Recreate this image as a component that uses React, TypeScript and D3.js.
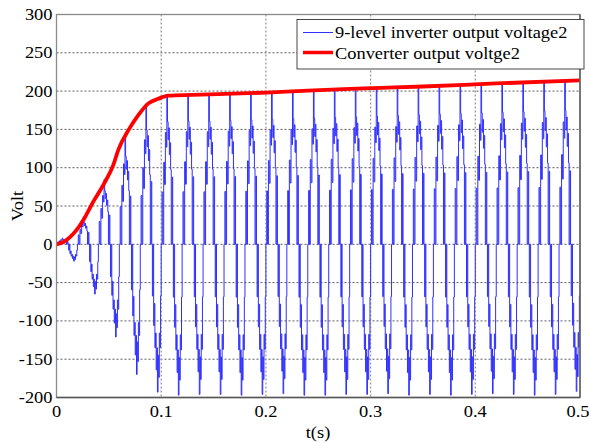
import React from "react";
import * as d3 from "d3";

// ---- data ----
const xTicks = [0, 0.1, 0.2, 0.3, 0.4, 0.5];
const yTicks = [-200, -150, -100, -50, 0, 50, 100, 150, 200, 250, 300];

// converter output voltage (red)
const envT = [0, 0.0067, 0.0134, 0.02, 0.0258, 0.0353, 0.0449, 0.0544, 0.0592, 0.0687, 0.0783, 0.0878, 0.0973, 0.107, 0.13, 0.2, 0.28, 0.35, 0.42, 0.5];
const envV = [0, 3, 10, 20, 32, 56, 78, 104, 124, 149, 169, 184, 190, 194, 195, 198, 203, 206, 210, 214];

// one 20 ms cycle of the 9-level staircase (phase in cycle, normalized level)
const cyclePhase = [0.0, 0.04, 0.08, 0.12, 0.16, 0.2, 0.24, 0.27, 0.3, 0.33, 0.36, 0.39, 0.42, 0.45, 0.48, 0.52, 0.55, 0.58, 0.61, 0.64, 0.67, 0.7, 0.73, 0.76, 0.79, 0.82, 0.85, 0.88, 0.91, 0.94, 0.97];
const cycleLevel = [0.0, 0.35, 0.0, 0.55, 0.4, 0.75, 0.65, 1.0, 0.82, 0.7, 0.78, 0.6, 0.68, 0.5, 0.0, 0.45, 0.0, -0.35, 0.0, -0.55, -0.4, -0.7, -0.6, -0.85, -0.7, -1.0, -0.75, -0.9, -0.6, -0.7, -0.35];

// per-cycle peak values of the inverter voltage (blue)
const posPeak = [8, 35, 85, 140, 182, 195, 196, 196, 197, 198, 199, 200, 201, 202, 203, 204, 205, 206, 207, 208, 209, 210, 211, 212, 213];
const negPeak = [-22, -65, -121, -170, -193, -197, -196, -196, -197, -196, -195, -197, -197, -196, -196, -195, -197, -196, -197, -196, -195, -196, -197, -196, -192];

const legendLabels = ["9-level inverter output voltage2", "Converter output voltge2"];

const W = 590, H = 443;
const L = 56.5, R = 580, T = 14.5, B = 397.5;
const SX = 1.15;
const FONT = "'Liberation Serif', 'Times New Roman', serif";

export default function App() {
  const x = d3.scaleLinear().domain([0, 0.5]).range([L, R]);
  const y = d3.scaleLinear().domain([-200, 300]).range([B, T]);

  const blue: [number, number][] = [];
  posPeak.forEach((p, c) => {
    cyclePhase.forEach((ph, i) => {
      const lv = cycleLevel[i];
      const v = lv >= 0 ? lv * p : lv * Math.abs(negPeak[c]);
      blue.push([(c + ph) * 0.02, v]);
    });
  });
  blue.push([0.5, blue[blue.length - 1][1]]);

  const blueLine = d3.line<[number, number]>().x(d => x(d[0])).y(d => y(d[1])).curve(d3.curveStepAfter);
  const redLine = d3.line<number>().x((_, i) => x(envT[i])).y(d => y(d)).curve(d3.curveMonotoneX);

  const txt = (s: string, px: number, py: number, anchor: string, key?: any) => (
    <text key={key} transform={`translate(${px},${py}) scale(${SX},1)`} textAnchor={anchor} fontFamily={FONT} fontSize={16} fill="#000">{s}</text>
  );

  return (
    <svg width={W} height={H} style={{ position: "absolute", left: 0, top: 0, background: "#fff" }}>
      <rect x={0} y={0} width={W} height={H} fill="#fff" />
      {/* grid */}
      {yTicks.filter(v => v > -200 && v < 300).map(v => (
        <line key={"gy" + v} x1={L} x2={R} y1={y(v)} y2={y(v)} stroke="#4a4a4a" strokeWidth={0.9} strokeDasharray="2,2" />
      ))}
      {xTicks.filter(v => v > 0 && v < 0.5).map(v => (
        <line key={"gx" + v} x1={x(v)} x2={x(v)} y1={T} y2={B} stroke="#9a9a9a" strokeWidth={1.3} strokeDasharray="2,2" />
      ))}
      {/* data */}
      <path d={blueLine(blue) || ""} fill="none" stroke="#3030ff" strokeWidth={1} />
      <path d={redLine(envV) || ""} fill="none" stroke="#ff0000" strokeWidth={3.8} strokeLinejoin="round" />
      {/* frame */}
      <rect x={L} y={T} width={R - L} height={B - T} fill="none" stroke="#8a8a8a" strokeWidth={1.3} />
      <line x1={L} x2={R} y1={B} y2={B} stroke="#555" strokeWidth={1.3} />
      <line x1={R} x2={R} y1={T} y2={B} stroke="#555" strokeWidth={1.3} />
      {/* tick labels */}
      {yTicks.map(v => txt(String(v), 52.5, y(v) + 5.5, "end", "yt" + v))}
      {xTicks.map(v => txt(String(v), v === 0.5 ? x(v) - 2 : x(v), 417, "middle", "xt" + v))}
      {txt("t(s)", 318, 438, "middle")}
      <text transform={`translate(23,206) rotate(-90) scale(${SX},1)`} textAnchor="middle" fontFamily={FONT} fontSize={16}>Volt</text>
      {/* legend */}
      <rect x={297} y={19.5} width={287} height={49.5} fill="#fff" stroke="#333" strokeWidth={0.9} />
      <line x1={303} x2={333} y1={32.5} y2={32.5} stroke="#3030ff" strokeWidth={1} />
      <line x1={303} x2={333} y1={52.5} y2={52.5} stroke="#ff0000" strokeWidth={3.5} />
      {txt(legendLabels[0], 335, 38, "start")}
      {txt(legendLabels[1], 335, 58.5, "start")}
    </svg>
  );
}
